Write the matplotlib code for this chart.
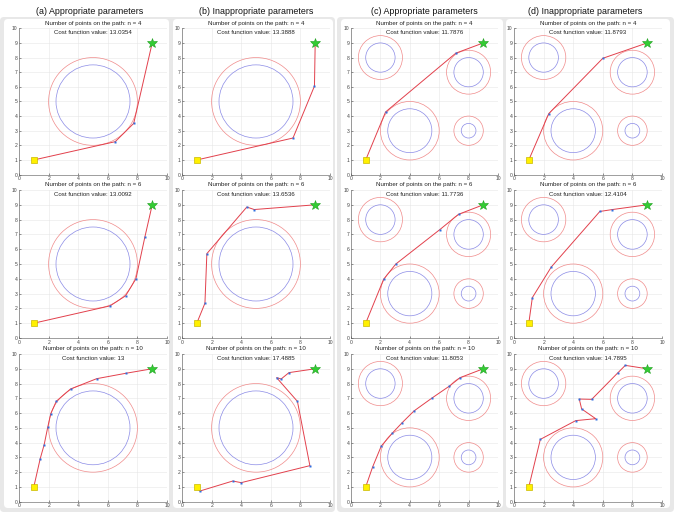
import matplotlib
matplotlib.use("Agg")
import matplotlib.pyplot as plt
from matplotlib.patches import Circle, FancyBboxPatch
from matplotlib.transforms import IdentityTransform

plt.rcParams['font.family'] = ['Liberation Sans', 'DejaVu Sans']

W, H = 674, 512

# column headers
col_titles = ['(a) Appropriate parameters', '(b) Inappropriate parameters',
              '(c) Appropriate parameters', '(d) Inappropriate parameters']
n_points = [4, 6, 10]

# cost function values per column (rows n=4, 6, 10)
cost_a = ['13.0354', '13.0092', '13']
cost_b = ['13.3888', '13.6536', '17.4885']
cost_c = ['11.7876', '11.7736', '11.8053']
cost_d = ['11.8793', '12.4104', '14.7895']

# obstacles: blue = obstacle radius, red = obstacle + safety margin
obst1_x = [5]
obst1_y = [5]
obst1_r = [2.5]
obst2_x = [2, 8, 4, 8]
obst2_y = [8, 7, 3, 3]
obst2_r = [1, 1, 1.5, 0.5]
margin = 0.5

start = (1, 1)
goal = (9, 9)

# paths (x list, y list) for each row
path_a = [
    ([1, 6.5, 7.75, 9], [1, 2.25, 3.5, 9]),
    ([1, 6.15, 7.2, 7.9, 8.5, 9], [1, 2.17, 2.85, 4.0, 6.8, 9]),
    ([1, 1.43, 1.7, 1.95, 2.15, 2.52, 3.48, 5.25, 7.25, 9],
     [1, 2.9, 3.86, 5.08, 5.97, 6.8, 7.63, 8.33, 8.7, 9]),
]
path_b = [
    ([1, 7.5, 8.95, 9], [1, 2.5, 6.05, 9]),
    ([1, 1.55, 1.68, 4.38, 4.88, 9], [1, 2.35, 5.7, 8.85, 8.68, 9]),
    ([1, 1.2, 3.43, 4.0, 8.64, 7.8, 6.39, 6.7, 7.23, 9],
     [1, 0.72, 1.4, 1.29, 2.44, 6.79, 8.4, 8.31, 8.74, 9]),
]
path_c = [
    ([1, 2.35, 7.13, 9], [1, 4.28, 8.3, 9]),
    ([1, 2.22, 3.05, 6.05, 7.32, 9], [1, 3.97, 5.0, 7.33, 8.36, 9]),
    ([1, 1.47, 2.06, 2.8, 3.46, 4.28, 5.54, 6.67, 7.42, 9],
     [1, 2.35, 3.77, 4.63, 5.33, 6.14, 7.04, 7.81, 8.4, 9]),
]
path_d = [
    ([1, 2.35, 6.0, 9], [1, 4.17, 7.95, 9]),
    ([1, 1.24, 2.52, 5.8, 6.65, 9], [1, 2.73, 4.8, 8.55, 8.68, 9]),
    ([1, 1.78, 4.17, 5.52, 4.57, 4.41, 5.25, 7.0, 7.52, 9],
     [1, 4.22, 5.49, 5.62, 6.28, 6.95, 6.93, 8.71, 9.23, 9]),
]

columns = [
    (path_a, cost_a, (obst1_x, obst1_y, obst1_r)),
    (path_b, cost_b, (obst1_x, obst1_y, obst1_r)),
    (path_c, cost_c, (obst2_x, obst2_y, obst2_r)),
    (path_d, cost_d, (obst2_x, obst2_y, obst2_r)),
]

# layout in pixels (from top-left)
col_x = [(19, 167), (182, 330), (351, 498), (514, 662)]
row_y = [(28.3, 174.6), (190, 338), (354, 501.7)]
head_x = [90, 256, 424, 585]

fig = plt.figure(figsize=(W / 100, H / 100), dpi=100)
fig.patch.set_facecolor('white')


def px_box(x0, top, x1, bottom, color, rad):
    p = FancyBboxPatch((x0 + rad, H - bottom + rad), x1 - x0 - 2 * rad, bottom - top - 2 * rad,
                       boxstyle='round,pad=%g' % rad, transform=IdentityTransform(),
                       facecolor=color, edgecolor='none', zorder=-10)
    fig.add_artist(p)


# gray panels and white "windows"
px_box(0, 17, 335, 512, '#e8e8e8', 4)
px_box(337, 17, 674, 512, '#e8e8e8', 4)
for (x0, x1) in [(4, 169), (173, 333), (341, 503), (506, 670)]:
    px_box(x0, 19, x1, 508, 'white', 4)

for j, (paths, costs, obst) in enumerate(columns):
    fig.text(head_x[j] / W, 1 - 12 / H, col_titles[j], ha='center', va='center',
             fontsize=6.4, color='#111111')
    ox, oy, orad = obst
    for i in range(3):
        x0, x1 = col_x[j]
        t, b = row_y[i]
        ax = fig.add_axes([x0 / W, 1 - b / H, (x1 - x0) / W, (b - t) / H])
        ax.set_xlim(0, 10)
        ax.set_ylim(0, 10)
        ax.set_xticks([0, 2, 4, 6, 8, 10])
        ax.set_yticks(range(11))
        ax.grid(True, color='#e6e6e6', lw=0.4)
        ax.set_axisbelow(True)
        ax.tick_params(direction='in', length=1.5, width=0.4, labelsize=3.6, pad=1.2,
                       colors='#444444')
        for s in ['top', 'right']:
            ax.spines[s].set_visible(False)
        for s in ['left', 'bottom']:
            ax.spines[s].set_color('#555555')
            ax.spines[s].set_linewidth(0.4)

        for cx, cy, r in zip(ox, oy, orad):
            ax.add_patch(Circle((cx, cy), r, fill=False, ec='#8a8ae6', lw=0.5))
            ax.add_patch(Circle((cx, cy), r + margin, fill=False, ec='#f08a8a', lw=0.5))

        px, py = paths[i]
        ax.plot(px, py, color='#e2404c', lw=0.7, zorder=3)
        ax.plot(px[1:-1], py[1:-1], 's', ms=1.7, color='#2f6fe0', mec='none', zorder=4)
        ax.plot(start[0], start[1], 's', ms=3.8, mfc='#fff000', mec='#c9b800', mew=0.5, zorder=5)
        ax.plot(goal[0], goal[1], '*', ms=7.5, mfc='#33cc33', mec='#1f9f1f', mew=0.4, zorder=5)

        ax.text(0.5, 1.036, 'Number of points on the path: n = %d' % n_points[i],
                transform=ax.transAxes, ha='center', va='center', fontsize=4.4,
                color='#222222', clip_on=False)
        ax.text(0.5, 0.972, 'Cost function value: %s' % costs[i],
                transform=ax.transAxes, ha='center', va='center', fontsize=4.4,
                color='#222222', clip_on=False)

fig.savefig('out.png', dpi=100, facecolor=fig.get_facecolor())
